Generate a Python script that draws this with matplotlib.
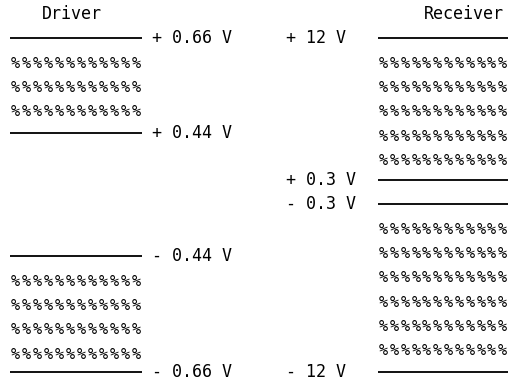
import matplotlib
matplotlib.use("Agg")
import matplotlib.pyplot as plt
import numpy as np

# Data: voltage levels and labels
driver_title = "Driver"
driver_levels = [0.66, 0.44, -0.44, -0.66]
driver_labels = ["+ 0.66 V", "+ 0.44 V", "- 0.44 V", "- 0.66 V"]
driver_band_rows = [3, 4]          # hatched rows in the valid bands (top, bottom)

receiver_title = "Receiver"
receiver_levels = [12, 0.3, -0.3, -12]
receiver_labels = ["+ 12 V", "+ 0.3 V", "- 0.3 V", "- 12 V"]
receiver_band_rows = [5, 6]

# Layout (pixel space)
W, H = 510, 383
driver_y = [38, 133, 256, 372]
receiver_y = [38, 180, 204, 372]
row_step = 24.3
font = "DejaVu Sans Mono"
fs = 12
n_pct = 12

fig = plt.figure(figsize=(W / 100, H / 100), dpi=100)
ax = fig.add_axes([0, 0, 1, 1])
ax.set_xlim(0, W)
ax.set_ylim(H, 0)
ax.axis("off")

def draw_side(title, levels, labels, ys, rows, x0, x1, label_x, title_x):
    ax.text(title_x, 14, title, ha="center", va="center", family=font, fontsize=fs, color="black")
    for lv, lab, y in zip(levels, labels, ys):
        ax.plot([x0, x1], [y, y], color="#111111", lw=1.4, solid_capstyle="butt")
        ax.text(label_x, y, lab, ha="left", va="center", family=font, fontsize=fs, color="black")
    step = (x1 - x0) / n_pct
    xs = x0 + step / 2 + step * np.arange(n_pct)
    for (ya, n) in [(ys[0], rows[0]), (ys[2], rows[1])]:
        for k in range(1, n + 1):
            for xc in xs:
                ax.text(xc, ya + row_step * k + 1, "%", ha="center", va="center",
                        family=font, fontsize=11, color="black")

draw_side(driver_title, driver_levels, driver_labels, driver_y, driver_band_rows,
          10, 142, 152, 72)
draw_side(receiver_title, receiver_levels, receiver_labels, receiver_y, receiver_band_rows,
          378, 508, 286, 464)

fig.savefig("out.png", dpi=100)
